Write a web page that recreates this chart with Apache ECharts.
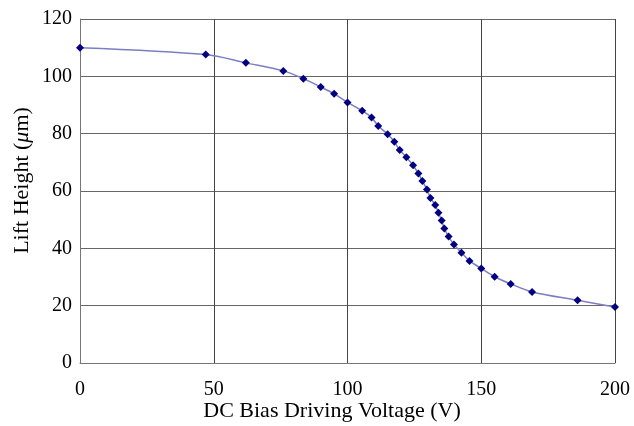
<!DOCTYPE html>
<html>
<head>
<meta charset="utf-8">
<script src="https://cdn.jsdelivr.net/npm/echarts@6/dist/echarts.min.js"></script>
<style>
  html, body { margin: 0; padding: 0; background: #fff; }
  #chart { width: 634px; height: 426px; }
</style>
</head>
<body>
<div id="chart"></div>
<script>
// voltage (V) and lift height (um)
var voltage = [0, 47, 62, 76, 83.5, 90, 95, 100, 105.5, 109, 111.5, 115, 117.5, 119.5, 122, 124.5, 126.5, 128,
  129.7, 131, 132.8, 134, 135.2, 136.2, 137.8, 139.8, 142.6, 145.6, 150, 155, 161, 169, 186, 200];
var lift = [110, 107.6, 104.7, 101.9, 99.2, 96.3, 93.9, 90.9, 88, 85.6, 82.7, 79.8, 77.2, 74.3, 71.8, 69, 66.1, 63.5,
  60.5, 57.6, 55.1, 52.4, 49.7, 46.9, 44.1, 41.3, 38.5, 35.6, 33, 30.1, 27.6, 24.8, 21.9, 19.5];

var pts = [];
for (var i = 0; i < voltage.length; i++) {
  pts.push([voltage[i], lift[i]]);
}

var font = 'Liberation Serif';
var chart = echarts.init(document.getElementById('chart'));
chart.setOption({
  backgroundColor: '#ffffff',
  animation: false,
  grid: {
    left: 80,
    right: 19,
    top: 19,
    bottom: 63,
    outerBoundsMode: 'none'
  },
  xAxis: {
    type: 'value',
    min: 0,
    max: 200,
    interval: 50,
    name: 'DC Bias Driving Voltage (V)',
    nameLocation: 'middle',
    nameGap: 37,
    nameMoveOverlap: false,
    nameTextStyle: { fontFamily: font, fontSize: 22, color: '#000', padding: [0, 31, 0, 0] },
    axisLine: { lineStyle: { color: '#777', width: 1 } },
    axisTick: { show: false },
    axisLabel: { fontFamily: font, fontSize: 20, color: '#000', margin: 17 },
    splitLine: { show: true, lineStyle: { color: '#444', width: 1 } }
  },
  yAxis: {
    type: 'value',
    min: 0,
    max: 120,
    interval: 20,
    name: 'Lift Height ({i|μ}m)',
    nameLocation: 'middle',
    nameGap: 47,
    nameMoveOverlap: false,
    nameTextStyle: {
      fontFamily: font, fontSize: 22, color: '#000', padding: [0, 0, 0, 21],
      rich: { i: { fontFamily: font, fontSize: 22, fontStyle: 'italic', color: '#000' } }
    },
    axisLine: { show: true, lineStyle: { color: '#777', width: 1 } },
    axisTick: { show: false },
    axisLabel: { fontFamily: font, fontSize: 20, color: '#000', margin: 8 },
    splitLine: { show: true, lineStyle: { color: '#666', width: 1 } }
  },
  series: [
    {
      type: 'line',
      data: pts,
      smooth: 0.3,
      symbol: 'diamond',
      symbolSize: 8,
      lineStyle: { color: '#7d7dc4', width: 1.5 },
      itemStyle: { color: '#000080' }
    }
  ]
});
</script>
</body>
</html>
